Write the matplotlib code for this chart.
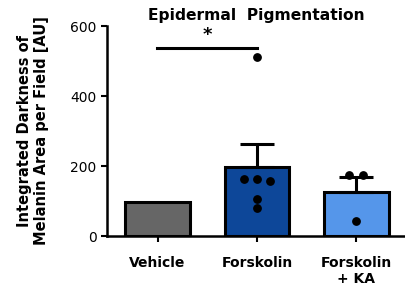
import numpy as np
import matplotlib
matplotlib.use("Agg")
import matplotlib.pyplot as plt

categories = ["Vehicle", "Forskolin", "Forskolin\n+ KA"]
means = [98, 196, 127]
err_up = [0, 66, 43]
colors = ["#666666", "#0d4799", "#5596ea"]

# individual points (x offset in category units, value)
forsk_pts = [512, 162, 162, 157, 105, 81]
forsk_dx = [0, -0.13, 0, 0.13, 0, 0]
ka_pts = [44, 174, 174]
ka_dx = [0, -0.07, 0.07]

fig = plt.figure(figsize=(4.05, 2.89), dpi=100)
ax = fig.add_axes([0.264, 0.183, 0.736, 0.727])

x = np.arange(len(categories))
ax.bar(x, means, width=0.65, color=colors, edgecolor="black", linewidth=2.2, zorder=2)
for i in range(len(x)):
    if err_up[i] > 0:
        ax.errorbar(x[i], means[i], yerr=[[0], [err_up[i]]], fmt="none",
                    ecolor="black", elinewidth=2.2, capsize=12, capthick=2.2, zorder=3)

ax.scatter(1 + np.array(forsk_dx), forsk_pts, s=28, color="black", zorder=4)
ax.scatter(2 + np.array(ka_dx), ka_pts, s=28, color="black", zorder=4)

# significance bar
ax.plot([-0.01, 1.0], [536, 536], color="black", lw=2.2, clip_on=False)
ax.text(0.5, 548, "*", ha="center", va="bottom", fontsize=13, fontweight="bold")

ax.set_xlim(-0.51, 2.49)
ax.set_ylim(0, 600)
ax.set_yticks([0, 200, 400, 600])
ax.set_xticks(x)
ax.set_xticklabels(categories, fontweight="bold", fontsize=10)
ax.tick_params(axis="y", labelsize=10, width=1.5, length=4)
ax.tick_params(axis="x", width=1.5, length=4, pad=10)
for s in ["top", "right"]:
    ax.spines[s].set_visible(False)
for s in ["left", "bottom"]:
    ax.spines[s].set_linewidth(1.8)

ax.set_ylabel("Integrated Darkness of\nMelanin Area per Field [AU]",
              fontweight="bold", fontsize=10.5, labelpad=15)
ax.set_title("Epidermal  Pigmentation", fontweight="bold", fontsize=11.2, pad=4)

fig.savefig("out.png", dpi=100)
